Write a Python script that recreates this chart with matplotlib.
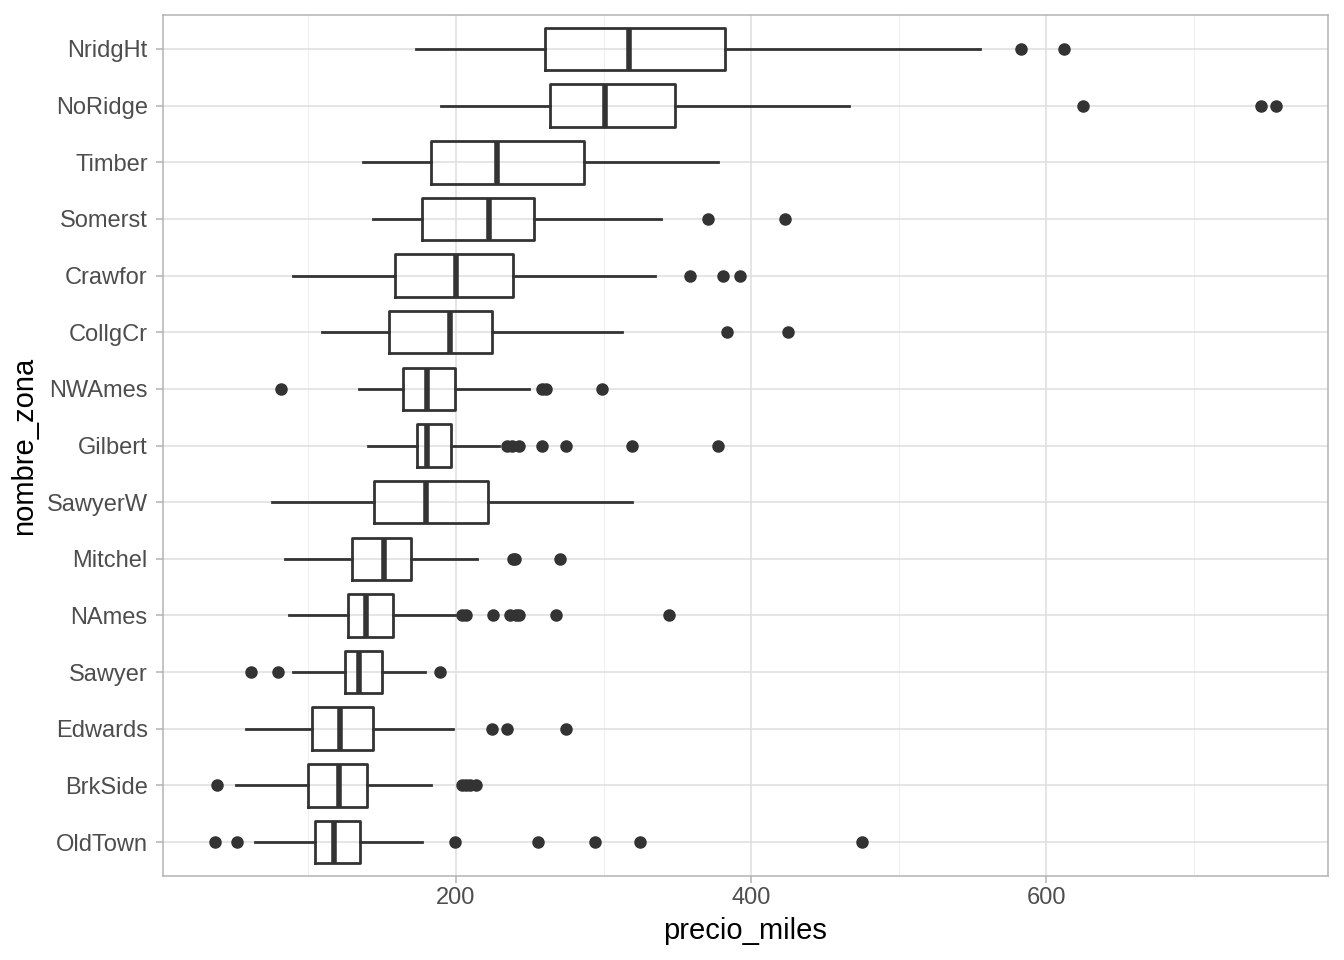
import matplotlib.pyplot as plt
import numpy as np

# zonas, de abajo hacia arriba (orden por mediana)
zonas = ['OldTown', 'BrkSide', 'Edwards', 'Sawyer', 'NAmes', 'Mitchel', 'SawyerW',
         'Gilbert', 'NWAmes', 'CollgCr', 'Crawfor', 'Somerst', 'Timber', 'NoRidge', 'NridgHt']

# estadisticos (precio en miles)
bigote_inf = [63.7, 50.8, 57.6, 89.5, 86.8, 84.0, 75.3, 140.3, 134.2, 109.2, 89.5, 143.7, 137.0, 189.8, 172.9]
q1 = [104.4, 99.7, 102.4, 124.7, 126.8, 129.5, 144.4, 173.6, 164.0, 154.6, 158.6, 177.0, 183.0, 263.7, 260.3]
mediana = [117.3, 120.7, 121.4, 134.2, 139.0, 151.2, 179.7, 180.3, 180.3, 196.0, 200.0, 222.4, 227.8, 301.0, 317.3]
q3 = [134.9, 139.7, 143.7, 149.8, 157.3, 169.5, 221.7, 196.6, 199.3, 224.4, 238.6, 252.9, 286.8, 348.5, 382.4]
bigote_sup = [177.0, 183.0, 198.0, 179.0, 199.3, 214.2, 319.3, 229.0, 249.5, 312.5, 334.9, 339.0, 377.6, 466.4, 555.3]
atipicos = [
    [36.6, 51.5, 199.3, 255.6, 294.2, 324.7, 475.3],
    [38.0, 204.0, 206.8, 209.5, 213.6],
    [224.4, 234.6, 274.6],
    [61.0, 79.3, 189.2],
    [204.0, 206.8, 225.0, 236.6, 240.7, 242.7, 267.8, 344.4],
    [238.6, 239.8, 270.5],
    [],
    [234.6, 238.0, 242.7, 258.3, 274.6, 319.3, 377.6],
    [81.4, 258.3, 261.0, 299.0],
    [383.7, 425.0],
    [358.6, 381.0, 392.5],
    [370.8, 423.0],
    [],
    [625.0, 745.8, 755.9],
    [583.0, 612.2],
]

plt.rcParams['font.family'] = ['Liberation Sans', 'DejaVu Sans']

fig = plt.figure(figsize=(13.44, 9.6), dpi=100)
ax = fig.add_axes([163 / 1344, 1 - 876 / 960, (1328 - 163) / 1344, (876 - 15) / 960])

stats = []
for i in range(len(zonas)):
    stats.append({'whislo': bigote_inf[i], 'q1': q1[i], 'med': mediana[i], 'q3': q3[i],
                  'whishi': bigote_sup[i], 'fliers': atipicos[i], 'label': zonas[i]})

col = '#333333'
ax.bxp(stats, positions=np.arange(1, len(zonas) + 1), vert=False, widths=0.75,
       showcaps=False,
       boxprops=dict(color=col, linewidth=2.0),
       whiskerprops=dict(color=col, linewidth=2.0),
       medianprops=dict(color=col, linewidth=4.0, solid_capstyle='butt'),
       flierprops=dict(marker='o', markerfacecolor=col, markeredgecolor=col, markersize=8),
       zorder=3)

ax.set_xlim(1.4, 791)
ax.set_ylim(0.4, len(zonas) + 0.6)
ax.set_xticks([200, 400, 600])
ax.set_xticks([100, 300, 500, 700], minor=True)
ax.set_yticks(np.arange(1, len(zonas) + 1))
ax.set_yticklabels(zonas)

ax.grid(True, which='major', color='#DEDEDE', linewidth=1.1, zorder=0)
ax.grid(True, which='minor', axis='x', color='#EDEDED', linewidth=0.6, zorder=0)
ax.set_axisbelow(True)
for s in ax.spines.values():
    s.set_color('#B3B3B3')
    s.set_linewidth(1.1)
ax.tick_params(which='major', length=5, color='#B3B3B3', width=1.1, labelsize=17,
               labelcolor='#4D4D4D', pad=3)
ax.tick_params(axis='y', which='major', pad=6)
ax.tick_params(which='minor', length=0)

ax.set_xlabel('precio_miles', fontsize=21, color='black', labelpad=6)
ax.set_ylabel('nombre_zona', fontsize=21, color='black', labelpad=6)

fig.savefig('out.png', dpi=100)
